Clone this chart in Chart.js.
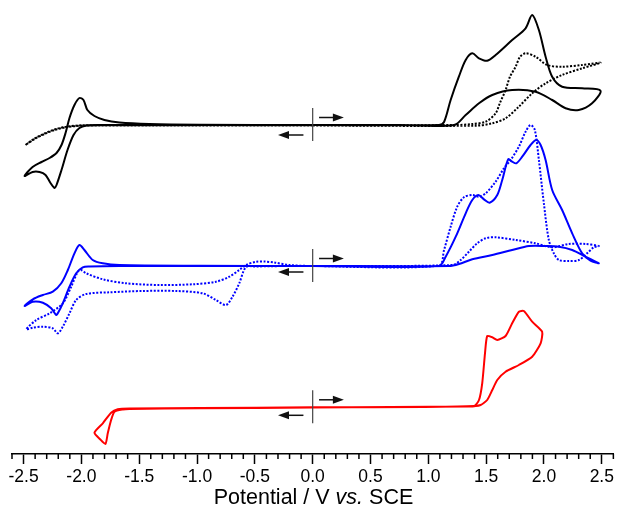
<!DOCTYPE html>
<html>
<head>
<meta charset="utf-8">
<script src="https://cdn.jsdelivr.net/npm/chart.js@4.4.0/dist/chart.umd.min.js"></script>
<style>
  body { margin: 0; background: #fff; }
  #wrap { position: relative; width: 617px; height: 512px; }
  #xtitle {
    position: absolute; left: 12px; width: 603px; top: 485px;
    text-align: center; font: 21.5px "Liberation Sans", Arial, sans-serif; color: #000;
  }
</style>
</head>
<body>
<div id="wrap">
  <canvas id="cv" width="617" height="512"></canvas>
  <div id="xtitle">Potential / V <i>vs.</i> SCE</div>
</div>
<script>
// potential (V) vs current (a.u., traces offset), in scan order
const blackSolid = [
  [0,329],[-0.980,329],[-1.844,329],[-1.956,328.5],[-2.017,326],[-2.068,319],[-2.120,304],
  [-2.172,284],[-2.215,269],[-2.232,266],[-2.267,271],[-2.310,279],[-2.362,282],[-2.422,282],
  [-2.491,278],[-2.422,287],[-2.345,292],[-2.275,296],[-2.215,301],[-2.172,309],[-2.137,321],
  [-2.103,336],[-2.060,349],[-2.017,356],[-1.982,354],[-1.948,344],[-1.887,338],[-1.801,334],
  [-1.671,331.5],[-1.412,330],[-0.980,329.3],[0,329],
  [1.092,329],[1.136,332],[1.193,354],[1.264,377.3],[1.323,394],[1.380,400.7],[1.438,395.7],
  [1.509,393.3],[1.582,399],[1.725,414],[1.841,425.7],[1.898,439],[1.956,424],[2.014,397.3],
  [2.071,377.3],[2.157,367.3],[2.330,365.7],[2.489,363.3],[2.416,350.7],[2.301,344],
  [2.187,345.7],[2.071,354],[1.927,362.3],[1.725,364],[1.553,359],[1.438,350.7],[1.323,339],
  [1.222,329],[0.747,329],[0,329]
];
const blackDotted = [
  [0,328.5],[-1.412,328.5],[-1.844,328.5],[-1.973,328.5],[-2.120,327],[-2.232,324],[-2.319,320],
  [-2.405,315],[-2.483,309],[-2.405,315.5],[-2.319,320.5],[-2.232,324.5],[-2.120,327.5],
  [-1.973,328.7],[0,328.7],
  [1.237,329],[1.380,330],[1.496,332.3],[1.582,340.7],[1.619,351],[1.668,364],[1.705,377],
  [1.755,387.3],[1.792,397],[1.841,400.7],[1.927,397.3],[2.028,389],[2.157,387.3],[2.330,389],
  [2.489,391.3],[2.330,385.7],[2.157,379],[2.014,370.7],[1.898,360.7],[1.782,347.3],
  [1.668,335.7],[1.553,330.7],[1.409,328.3],[0,328.5]
];
const blueSolid = [
  [0,188],[-0.980,188],[-1.671,188],[-1.930,187.5],[-1.988,186.7],[-2.045,180.7],[-2.103,167.3],
  [-2.161,150.7],[-2.204,140.7],[-2.218,139],[-2.261,145.7],[-2.333,151.3],[-2.420,152.3],
  [-2.491,148],[-2.420,154.7],[-2.333,159],[-2.247,162.3],[-2.174,170.7],[-2.117,184],
  [-2.060,200.7],[-2.017,209],[-1.974,204],[-1.902,194],[-1.815,190.7],[-1.671,189],
  [-0.980,188.3],[0,188],
  [1.092,188],[1.150,197.3],[1.237,217.3],[1.323,240.7],[1.380,254],[1.432,259],[1.481,254.7],
  [1.530,251.3],[1.596,259],[1.639,274],[1.691,294.7],[1.725,292.3],[1.760,290.7],[1.812,297.3],
  [1.884,309],[1.933,314],[1.971,309],[2.014,294],[2.071,264],[2.157,244],[2.244,220.7],
  [2.330,200.7],[2.402,193.3],[2.474,190.7],[2.359,197.3],[2.244,204],[2.129,207.3],[2.014,208],
  [1.870,208],[1.725,204],[1.553,199],[1.380,194.7],[1.265,190],[1.179,188],[0,188]
];
const blueDotted = [
  [0,188],[-0.203,188],[-0.497,187.5],[-0.577,187],[-0.635,170.7],[-0.693,157.3],[-0.750,149],
  [-0.836,154],[-0.952,160.7],[-1.181,163],[-1.470,163],[-1.757,161.7],[-1.959,160],[-2.045,154],
  [-2.103,140.7],[-2.161,127.3],[-2.204,120.7],[-2.247,125.7],[-2.333,127.3],[-2.420,126.3],
  [-2.477,124.7],[-2.390,134],[-2.275,140.7],[-2.161,150.7],[-2.088,167.3],[-2.031,182.3],
  [-2.002,184],[-1.959,180.7],[-1.815,174.7],[-1.613,170.7],[-1.326,169],[-1.038,169.7],
  [-0.836,172.3],[-0.721,177.3],[-0.635,184],[-0.577,189],[-0.490,192.3],[-0.419,192.5],
  [-0.332,191.5],[-0.203,189],[0,188],
  [1.092,188.5],[1.136,204],[1.193,227.3],[1.250,247.3],[1.308,256.7],[1.380,259],[1.438,257.3],
  [1.496,260.7],[1.582,272.3],[1.654,285.7],[1.712,294],[1.783,307.3],[1.841,322.3],[1.884,329],
  [1.921,324],[1.956,294],[1.999,250.7],[2.042,214],[2.085,200.7],[2.129,194],[2.215,193],
  [2.301,194],[2.373,200.7],[2.431,206.7],[2.474,208],[2.359,210],[2.215,210],[2.071,206.7],
  [1.927,210.7],[1.755,214],[1.582,216.7],[1.496,215.7],[1.423,210.7],[1.351,202.3],[1.280,194],
  [1.207,189],[0,188]
];
const redSolid = [
  [0,46.5],[-0.980,45.7],[-1.585,45],[-1.642,44.5],[-1.714,42.3],[-1.743,34],[-1.772,20.7],
  [-1.792,10],[-1.838,14.7],[-1.887,21.3],[-1.815,30.7],[-1.743,41.3],[-1.686,44.7],[-1.585,45.5],
  [-0.980,46],[0,46.7],
  [1.395,48],[1.438,54],[1.466,70.7],[1.490,100.7],[1.509,118],[1.553,116.7],[1.596,114],
  [1.668,118],[1.725,130.7],[1.783,142.3],[1.826,143],[1.898,132.3],[1.984,122.3],[1.971,110.7],
  [1.898,97.3],[1.783,89],[1.668,82.3],[1.596,74],[1.553,64],[1.509,54],[1.452,49],[1.351,47.5],
  [0,46.5]
];
// start-potential markers: baseline current of each trace
const markerBase = [329, 188, 46.7];
const leftArrowDrop = [10, 6, 8];
const majorTicks = [-2.5, -2.0, -1.5, -1.0, -0.5, 0.0, 0.5, 1.0, 1.5, 2.0, 2.5];

const toXY = arr => arr.map(p => ({ x: p[0], y: p[1] }));

function line(data, color, dotted, tension) {
  return {
    data: toXY(data),
    showLine: true,
    borderColor: color,
    borderWidth: 2,
    borderDash: dotted ? [2, 1.6] : [],
    pointRadius: 0,
    tension: tension,
    fill: false
  };
}

function arrow(ctx, x1, y, x2, color) {
  const dir = x2 > x1 ? 1 : -1;
  ctx.strokeStyle = color;
  ctx.fillStyle = color;
  ctx.lineWidth = 1.5;
  ctx.beginPath();
  ctx.moveTo(x1, y);
  ctx.lineTo(x2 - dir * 8, y);
  ctx.stroke();
  ctx.beginPath();
  ctx.moveTo(x2, y);
  ctx.lineTo(x2 - dir * 11, y - 4);
  ctx.lineTo(x2 - dir * 11, y + 4);
  ctx.closePath();
  ctx.fill();
}

const decorations = {
  id: 'decorations',
  afterDatasetsDraw(chart) {
    const ctx = chart.ctx;
    const xs = chart.scales.x, ys = chart.scales.y;
    ctx.save();
    markerBase.forEach((b, i) => {
      const x0 = xs.getPixelForValue(0);
      ctx.strokeStyle = '#444';
      ctx.lineWidth = 1.2;
      ctx.beginPath();
      ctx.moveTo(x0, ys.getPixelForValue(b + 17));
      ctx.lineTo(x0, ys.getPixelForValue(b - 16));
      ctx.stroke();
      const yr = ys.getPixelForValue(b + 7.5);
      arrow(ctx, xs.getPixelForValue(0.055), yr, xs.getPixelForValue(0.27), '#111');
      const yl = ys.getPixelForValue(b - leftArrowDrop[i]);
      arrow(ctx, xs.getPixelForValue(-0.08), yl, xs.getPixelForValue(-0.30), '#111');
    });
    // minor ticks every 0.1 V
    const yb = chart.chartArea.bottom;
    ctx.strokeStyle = '#000';
    ctx.lineWidth = 1.5;
    for (let i = -26; i <= 26; i++) {
      if (i % 5 === 0) continue;
      const px = xs.getPixelForValue(i / 10);
      ctx.beginPath();
      ctx.moveTo(px, yb);
      ctx.lineTo(px, yb + 5);
      ctx.stroke();
    }
    ctx.restore();
  }
};

Chart.defaults.font.family = '"Liberation Sans", Arial, sans-serif';
Chart.defaults.color = '#000';

new Chart(document.getElementById('cv'), {
  type: 'scatter',
  data: {
    datasets: [
      line(blackDotted, '#000', true, 0.3),
      line(blackSolid, '#000', false, 0.3),
      line(blueDotted, '#0000ff', true, 0.3),
      line(blueSolid, '#0000ff', false, 0.3),
      line(redSolid, '#ff0000', false, 0.2)
    ]
  },
  options: {
    responsive: false,
    animation: false,
    devicePixelRatio: 1,
    layout: { padding: { left: 12, right: 2, top: 0, bottom: 0 } },
    plugins: { legend: { display: false }, tooltip: { enabled: false } },
    scales: {
      x: {
        type: 'linear',
        position: 'bottom',
        min: -2.6,
        max: 2.6,
        afterBuildTicks: s => { s.ticks = majorTicks.map(v => ({ value: v })); },
        afterFit: s => { s.height = 58; },
        ticks: {
          font: { size: 17.5 },
          padding: 3,
          maxRotation: 0,
          autoSkip: false,
          callback: v => Number(v).toFixed(1)
        },
        grid: {
          display: true,
          drawOnChartArea: false,
          drawTicks: true,
          tickLength: 10,
          tickWidth: 1.5,
          tickColor: '#000'
        },
        border: { display: true, color: '#000', width: 1.5 }
      },
      y: {
        display: false,
        min: 0,
        max: 454
      }
    }
  },
  plugins: [decorations]
});
</script>
</body>
</html>
